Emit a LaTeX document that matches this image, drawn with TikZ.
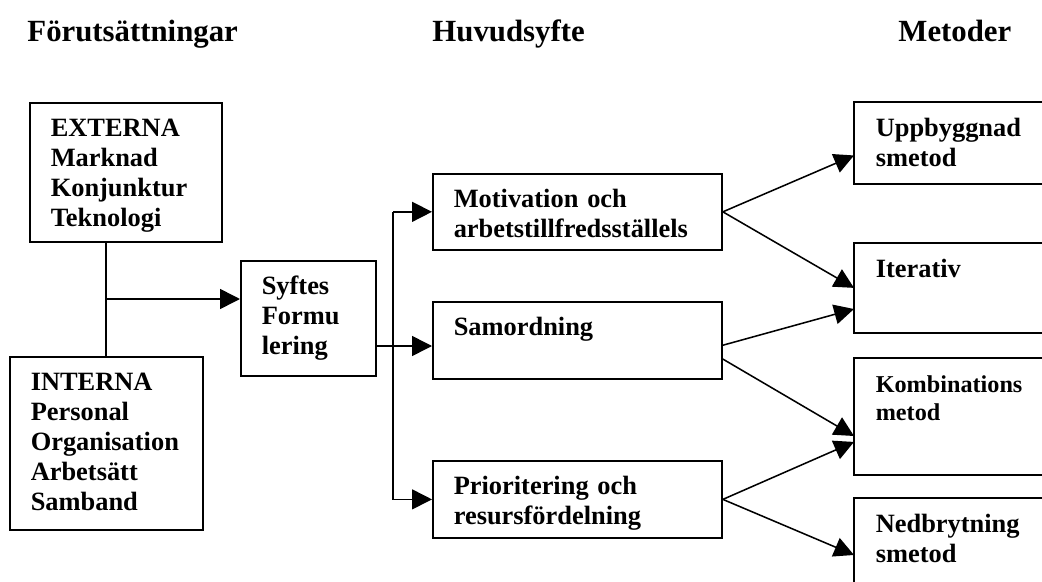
\documentclass[tikz,border=0pt]{standalone}
\usepackage{fontspec}
\setmainfont{Liberation Serif}
\usetikzlibrary{arrows.meta}
\hyphenpenalty=10000
\tikzset{
  box/.style 2 args={draw, line width=0.8pt, anchor=north west, align=left,
    font=\bfseries\fontsize{12}{13.6}\selectfont, inner xsep=9.5pt, inner ysep=0pt,
    text height=15.5pt, text width=#1, text depth=#2},
  obox/.style 2 args={box={#1}{#2}, draw=none},
  head/.style={anchor=base west, inner sep=0pt, font=\bfseries\fontsize{14}{16}\selectfont},
  arr/.style={line width=0.7pt, -{Triangle[length=9pt,width=9pt]}}
}

\begin{document}
\begin{tikzpicture}[x=0.4545pt, y=-0.4545pt]
\useasboundingbox (0,0) rectangle (1042,582);
\node[head] (forut) at (27,41) {Förutsättningar};
\node[head] (huvud) at (432,41) {Huvudsyfte};
\node[head] (metod) at (898,41) {Metoder};

\node[box={68.3pt}{47.7pt}] (ext) at (29,102) {EXTERNA\\Marknad\\Konjunktur\\Teknologi};
\node[box={68.7pt}{63.1pt}] (int) at (9,356) {INTERNA\\Personal\\Organisation\\Arbetsätt\\Samband};
\node[box={42.4pt}{36.8pt}] (syf) at (240,260) {Syftes\\Formu\\lering};

\node[box={112.4pt}{19pt}] (mot) at (432,173) {Motivation och\\arbetstillfredsställels};
\node[box={112.4pt}{19.5pt}] (sam) at (432,301) {Samordning};
\node[box={112.4pt}{19.5pt}] (pri) at (432,460) {Prioritering och\\resursfördelning};

\node[obox={75pt}{20.9pt}] (upp) at (854,102) {Uppbyggnad\\smetod};
\node[obox={75pt}{24.5pt}] (ite) at (854,243) {Iterativ};
\node[obox={75pt}{36.8pt}, font=\bfseries\fontsize{11}{12.7}\selectfont] (kom) at (854,358) {Kombinations\\metod};
\node[obox={75pt}{30.9pt}] (ned) at (854,498) {Nedbrytning\\smetod};
\foreach \b in {upp,ite,kom,ned}
  \draw[line width=0.8pt] (\b.north east) -- (\b.north west) -- (\b.south west) -- (\b.south east);

\coordinate (j) at (106,299);
\coordinate (v) at (393,346);
\draw[line width=0.7pt] (ext.south -| j) -- (int.north -| j);
\draw[arr] (j) -- (syf.west |- j);
\draw[arr] (syf.east |- v) -- (sam.west |- v);
\draw[arr] (v |- mot.west) -- (mot.west);
\draw[arr] (v |- mot.west) -- (v |- pri.west) -- (pri.west);

\draw[arr] (mot.east) -- ([yshift=-5.7pt]upp.west);
\draw[arr] (mot.east) -- (ite.west);
\draw[arr] ([yshift=-2.2pt]sam.east) -- ([yshift=-9.6pt]ite.west);
\draw[arr] ([yshift=-8.5pt]sam.east) -- ([yshift=-8.9pt]kom.west);
\draw[arr] (pri.east) -- ([yshift=-11.6pt]kom.west);
\draw[arr] (pri.east) -- ([yshift=-25.9pt]ned.north west);
\end{tikzpicture}
\end{document}
